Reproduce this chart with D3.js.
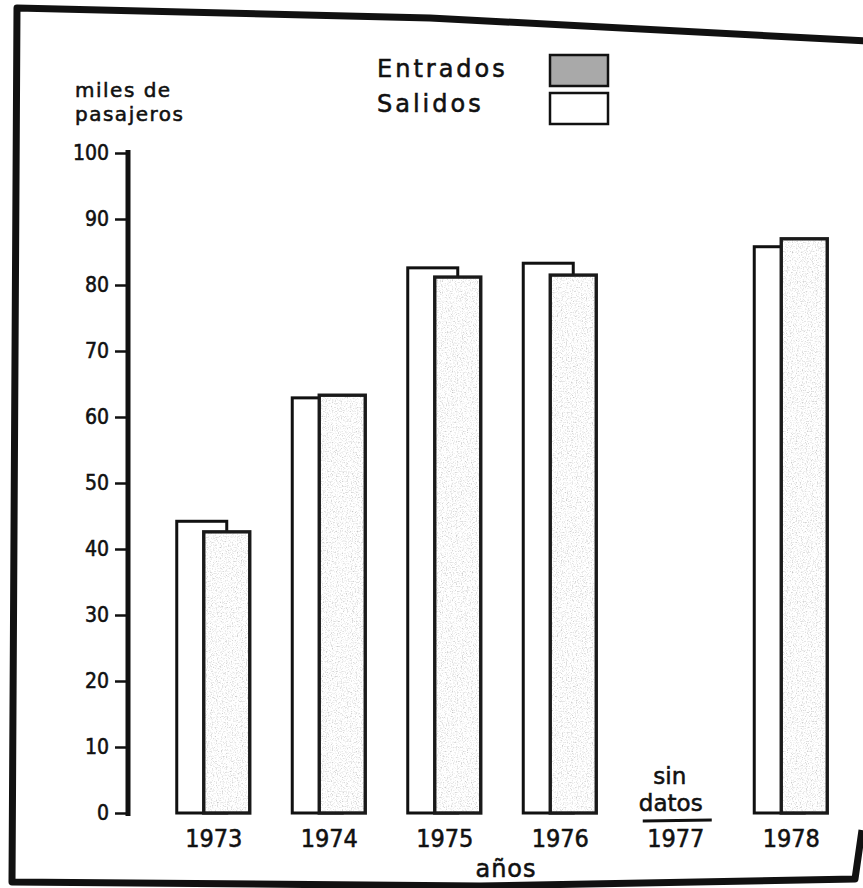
<!DOCTYPE html>
<html>
<head>
<meta charset="utf-8">
<script src="https://cdn.jsdelivr.net/npm/d3@7"></script>
<style>
  html, body { margin: 0; padding: 0; background: #fff; }
  svg { display: block; }
  text { stroke: #111; stroke-width: 0.55px; }
</style>
</head>
<body>
<svg id="chart" width="863" height="888"></svg>
<script>
// ---- data ----
const years = ["1973", "1974", "1975", "1976", "1977", "1978"];
const salidos = [44.2, 62.9, 82.6, 83.3, null, 85.8];
const entrados = [42.6, 63.3, 81.2, 81.5, null, 87.0];
const yTicks = [0, 10, 20, 30, 40, 50, 60, 70, 80, 90, 100];
const seriesNames = ["Entrados", "Salidos"];
const noDataLabel = ["sin", "datos"];

const svg = d3.select("#chart");
const cond = "'DejaVu Sans Condensed', 'Liberation Sans Narrow', sans-serif";
const wide = "'DejaVu Sans', sans-serif";

// grain filter for the grey bars
const defs = svg.append("defs");
const f = defs.append("filter").attr("id", "grain").attr("x", 0).attr("y", 0).attr("width", 1).attr("height", 1);
f.append("feTurbulence").attr("type", "fractalNoise").attr("baseFrequency", 0.8).attr("numOctaves", 2).attr("seed", 4).attr("result", "n");
f.append("feColorMatrix").attr("in", "n").attr("type", "matrix")
  .attr("values", "1.1 0 0 0 0.43  1.1 0 0 0 0.43  1.1 0 0 0 0.43  0 0 0 0 1").attr("result", "g");
f.append("feComposite").attr("in", "g").attr("in2", "SourceGraphic").attr("operator", "in");

// photo frame
const frame = d3.line().curve(d3.curveLinear);
svg.append("path")
  .attr("d", frame([[866, 41], [430, 18], [17, 8], [12, 882], [480, 886], [855, 879], [862, 830]]))
  .attr("fill", "none").attr("stroke", "#111").attr("stroke-width", 7).attr("stroke-linejoin", "round");

// scales
const x = d3.scaleBand().domain(years).range([156, 849]).padding(0);
const y = d3.scaleLinear().domain([0, 100]).range([813, 153]);
const cx = d => x(d) + x.bandwidth() / 2;

// y axis
const axisX = 128;
const yAxis = d3.axisLeft(y).tickValues(yTicks).tickSize(13).tickPadding(6).tickFormat(d3.format("d"));
const gA = svg.append("g").attr("transform", `translate(${axisX},0)`).call(yAxis);
gA.select(".domain").remove();
gA.selectAll(".tick line").attr("stroke", "#111").attr("stroke-width", 2.5);
gA.selectAll(".tick text").attr("font-family", cond).attr("font-size", 21).attr("fill", "#111");
svg.append("line").attr("x1", axisX).attr("x2", axisX).attr("y1", y(100) - 3).attr("y2", y(0) + 3)
  .attr("stroke", "#111").attr("stroke-width", 5);

// axis title
svg.append("text").attr("x", 75).attr("y", 97).text("miles de")
  .attr("font-family", wide).attr("font-size", 20).attr("letter-spacing", 1.5).attr("fill", "#111");
svg.append("text").attr("x", 75).attr("y", 121).text("pasajeros")
  .attr("font-family", wide).attr("font-size", 20).attr("letter-spacing", 1.5).attr("fill", "#111");

// bars
const salW = 50, salOff = -37;
const entW = 46, entOff = -10;
const rows = years.map((yr, i) => ({ yr, s: salidos[i], e: entrados[i] })).filter(d => d.s != null);

svg.append("g").selectAll("rect").data(rows).join("rect")
  .attr("x", d => cx(d.yr) + salOff).attr("width", salW)
  .attr("y", d => y(d.s)).attr("height", d => y(0) - y(d.s))
  .attr("fill", "#fff").attr("stroke", "#111").attr("stroke-width", 3);

const gE = svg.append("g");
gE.selectAll("rect.fill").data(rows).join("rect").attr("class", "fill")
  .attr("x", d => cx(d.yr) + entOff).attr("width", entW)
  .attr("y", d => y(d.e)).attr("height", d => y(0) - y(d.e))
  .attr("fill", "#fff").attr("filter", "url(#grain)");
gE.selectAll("rect.out").data(rows).join("rect").attr("class", "out")
  .attr("x", d => cx(d.yr) + entOff).attr("width", entW)
  .attr("y", d => y(d.e)).attr("height", d => y(0) - y(d.e))
  .attr("fill", "none").attr("stroke", "#1a1a1a").attr("stroke-width", 3.4);

// x labels
svg.append("g").selectAll("text").data(years).join("text")
  .attr("x", d => cx(d)).attr("y", 847).attr("text-anchor", "middle").text(d => d)
  .attr("font-family", cond).attr("font-size", 25).attr("fill", "#111");

// "sin datos" for 1977
const c77 = cx("1977");
svg.append("text").attr("x", c77 - 6).attr("y", 784).attr("text-anchor", "middle").text(noDataLabel[0])
  .attr("font-family", wide).attr("font-size", 23).attr("fill", "#111");
svg.append("text").attr("x", c77 - 5).attr("y", 811).attr("text-anchor", "middle").text(noDataLabel[1])
  .attr("font-family", wide).attr("font-size", 23).attr("fill", "#111");
svg.append("line").attr("x1", c77 - 33).attr("x2", c77 + 36).attr("y1", 821).attr("y2", 820)
  .attr("stroke", "#111").attr("stroke-width", 3);

// x title
svg.append("text").attr("x", 506).attr("y", 877).attr("text-anchor", "middle").text("años")
  .attr("font-family", wide).attr("font-size", 24).attr("letter-spacing", 1).attr("fill", "#111");

// legend
const leg = [
  { name: seriesNames[0], ty: 77, by: 55, fill: "#a9a9a9" },
  { name: seriesNames[1], ty: 112, by: 93, fill: "#fff" }
];
leg.forEach(l => {
  svg.append("text").attr("x", 377).attr("y", l.ty).text(l.name)
    .attr("font-family", wide).attr("font-size", 24).attr("letter-spacing", 3).attr("fill", "#111");
  svg.append("rect").attr("x", 550).attr("y", l.by).attr("width", 58).attr("height", 31)
    .attr("fill", l.fill).attr("stroke", "#111").attr("stroke-width", 2.5);
});
</script>
</body>
</html>
